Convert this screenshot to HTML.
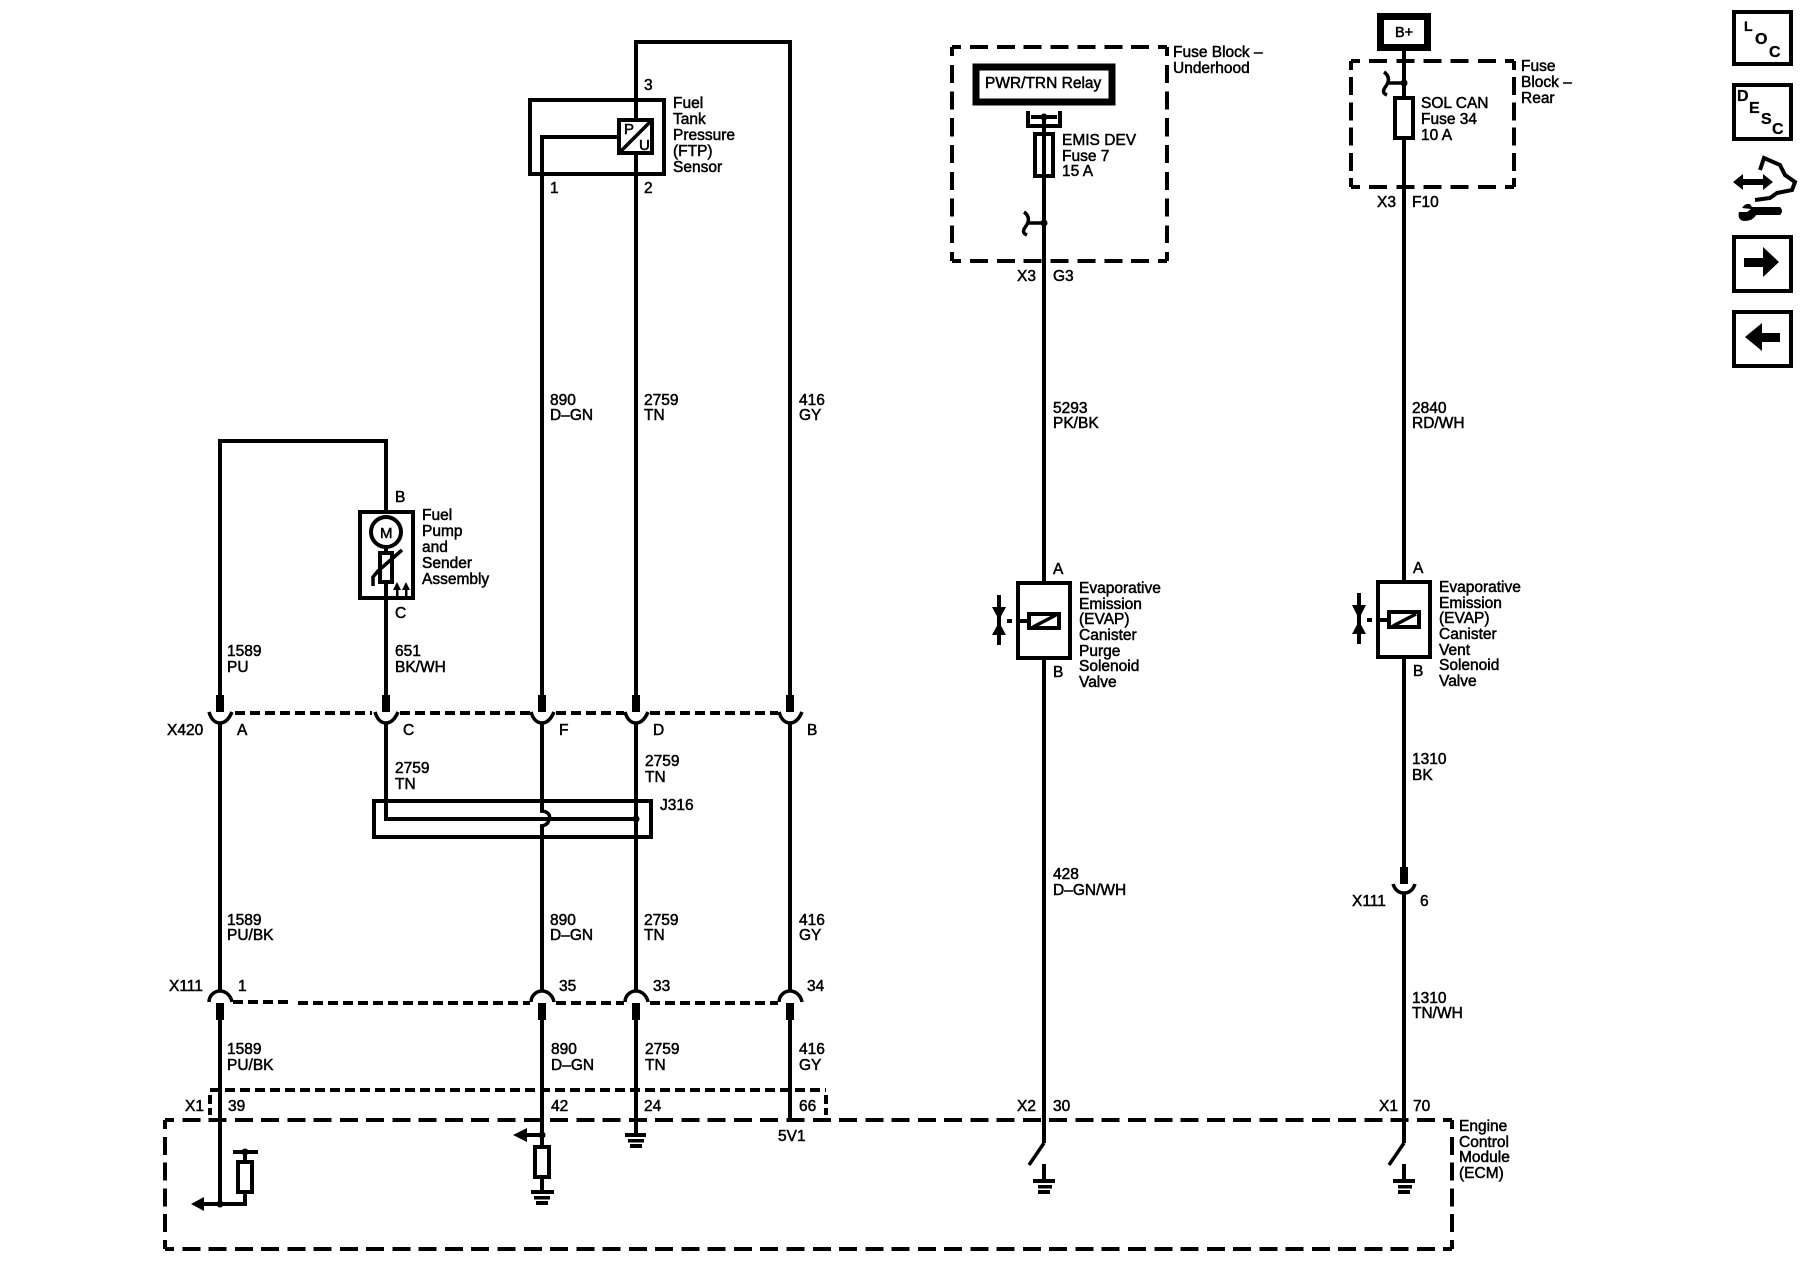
<!DOCTYPE html>
<html><head><meta charset="utf-8"><title>Wiring diagram</title>
<style>
html,body{margin:0;padding:0;background:#fff;width:1800px;height:1280px;overflow:hidden}
svg{display:block}
text{font-family:"Liberation Sans",sans-serif;font-size:15.5px;fill:#000;stroke:#000;stroke-width:.5px}
.w{fill:none;stroke:#000;stroke-width:4;shape-rendering:crispEdges}
.c{fill:none;stroke:#000;stroke-width:3.5}
.k{fill:#000;stroke:none}
.b{fill:none;stroke:#000;stroke-width:4;shape-rendering:crispEdges}
.d{fill:none;stroke:#000;stroke-width:4;stroke-dasharray:10 5;shape-rendering:crispEdges}
.i{font-weight:bold;font-size:16px;stroke-width:.3px}
</style></head><body>
<svg xmlns="http://www.w3.org/2000/svg" width="1800" height="1280" viewBox="0 0 1800 1280">
<rect width="1800" height="1280" fill="#fff"/>

<!-- Wires -->
<path class="w" d="M220 695V441H386V512M386 547V553M386 582V695"/>
<path class="w" d="M220 723V991M220 1020V1204"/>
<path class="w" d="M386 723V819H636"/>
<path class="w" d="M542 695V137H619"/>
<path class="w" d="M542 723V811M542 827V991M542 1020V1147M542 1177V1192"/>
<path class="w" d="M636 695V42H790V695"/>
<path class="w" d="M636 723V991M636 1020V1135"/>
<path class="w" d="M790 723V991M790 1020V1120"/>
<path class="w" d="M1044 117V583M1044 658V1143"/>
<path class="w" d="M1404 51V582M1404 657V867M1404 893V1143"/>

<!-- FTP sensor -->
<rect class="b" x="530" y="100" width="134" height="74"/>
<rect x="619" y="120" width="33" height="33" fill="#fff" stroke="#000" stroke-width="4" shape-rendering="crispEdges"/>
<path class="c" d="M620 152L651 121"/>
<text x="624" y="134" style="font-size:15px">P</text>
<text x="639" y="150" style="font-size:15px">U</text>
<text x="644" y="90">3</text>
<text x="673" y="108">Fuel</text><text x="673" y="124">Tank</text><text x="673" y="140">Pressure</text><text x="673" y="156">(FTP)</text><text x="673" y="172">Sensor</text>
<text x="550" y="193">1</text><text x="644" y="193">2</text>

<!-- Fuse block underhood -->
<g style="stroke-dasharray:18 8.875;stroke-dashoffset:9" fill="none" stroke="#000" stroke-width="4" shape-rendering="crispEdges">
<path d="M952 47H1167"/><path d="M952 261H1167"/>
</g>
<g style="stroke-dasharray:18 8.75;stroke-dashoffset:9" fill="none" stroke="#000" stroke-width="4" shape-rendering="crispEdges">
<path d="M952 47V261"/><path d="M1167 47V261"/>
</g>
<rect x="976" y="67" width="136" height="35" fill="#fff" stroke="#000" stroke-width="7" shape-rendering="crispEdges"/>
<text x="985" y="88">PWR/TRN Relay</text>
<path class="b" d="M1028 111V126H1060V111M1031 117H1057"/>
<circle class="k" cx="1044" cy="117" r="3.5"/>
<rect x="1035" y="134" width="18" height="42" fill="none" stroke="#000" stroke-width="4" shape-rendering="crispEdges"/>
<text x="1062" y="145">EMIS DEV</text><text x="1062" y="161">Fuse 7</text><text x="1062" y="176">15 A</text>
<circle class="k" cx="1044" cy="223" r="3.5"/>
<path class="c" d="M1044 223H1028M1024 212C1030 216 1029 222 1026 226C1023 230 1022 233 1027 235"/>
<text x="1173" y="57">Fuse Block –</text><text x="1173" y="73">Underhood</text>
<text x="1017" y="281">X3</text><text x="1053" y="281">G3</text>

<!-- Fuse block rear -->
<rect x="1380.5" y="16.5" width="47" height="31" fill="#fff" stroke="#000" stroke-width="7" shape-rendering="crispEdges"/>
<text x="1395" y="37" style="font-size:14.5px">B+</text>
<g style="stroke-dasharray:18 9.17;stroke-dashoffset:9" fill="none" stroke="#000" stroke-width="4" shape-rendering="crispEdges">
<path d="M1351 61H1514"/><path d="M1351 187H1514"/>
</g>
<g style="stroke-dasharray:18 7.2;stroke-dashoffset:9" fill="none" stroke="#000" stroke-width="4" shape-rendering="crispEdges">
<path d="M1351 61V187"/><path d="M1514 61V187"/>
</g>
<circle class="k" cx="1404" cy="83" r="3.5"/>
<path class="c" d="M1404 83H1388M1384 72C1390 76 1389 82 1386 86C1383 90 1382 93 1387 95"/>
<rect x="1395" y="98" width="18" height="40" fill="#fff" stroke="#000" stroke-width="4" shape-rendering="crispEdges"/>
<text x="1421" y="108">SOL CAN</text><text x="1421" y="124">Fuse 34</text><text x="1421" y="140">10 A</text>
<text x="1521" y="71">Fuse</text><text x="1521" y="87">Block –</text><text x="1521" y="103">Rear</text>
<text x="1377" y="207">X3</text><text x="1412" y="207">F10</text>

<!-- Right labels -->
<text x="1053" y="413">5293</text><text x="1053" y="428">PK/BK</text>
<text x="1412" y="413">2840</text><text x="1412" y="428">RD/WH</text>

<!-- Evap purge -->
<rect class="b" x="1018" y="583" width="52" height="75"/>
<rect x="1029" y="614" width="30" height="14" fill="#fff" stroke="#000" stroke-width="4" shape-rendering="crispEdges"/>
<path class="c" d="M1033 627L1056 615" stroke-width="3"/>
<path class="b" d="M1007 621H1012M1016 621H1029M999 595V645"/>
<path class="k" d="M992 607H1006L999 620ZM992 635H1006L999 622Z"/>
<text x="1053" y="574">A</text><text x="1053" y="677">B</text>
<text x="1079" y="593">Evaporative</text><text x="1079" y="609">Emission</text><text x="1079" y="624">(EVAP)</text><text x="1079" y="640">Canister</text><text x="1079" y="656">Purge</text><text x="1079" y="671">Solenoid</text><text x="1079" y="687">Valve</text>

<!-- Evap vent -->
<rect class="b" x="1378" y="582" width="52" height="75"/>
<rect x="1389" y="612" width="30" height="15" fill="#fff" stroke="#000" stroke-width="4" shape-rendering="crispEdges"/>
<path class="c" d="M1393 626L1416 614" stroke-width="3"/>
<path class="b" d="M1367 620H1372M1376 620H1389M1359 593V644"/>
<path class="k" d="M1352 605H1366L1359 619ZM1352 634H1366L1359 621Z"/>
<text x="1413" y="573">A</text><text x="1413" y="676">B</text>
<text x="1439" y="592">Evaporative</text><text x="1439" y="608">Emission</text><text x="1439" y="623">(EVAP)</text><text x="1439" y="639">Canister</text><text x="1439" y="655">Vent</text><text x="1439" y="670">Solenoid</text><text x="1439" y="686">Valve</text>

<!-- Fuel pump -->
<rect class="b" x="360" y="512" width="53" height="86"/>
<circle cx="386" cy="532" r="15" fill="#fff" stroke="#000" stroke-width="4"/>
<text x="380" y="538" style="font-size:15px">M</text>
<rect class="b" x="380" y="553" width="12" height="29"/>
<path class="c" d="M373 586V577L378 571L402 550"/>
<path class="b" d="M397 597V587M406 597V587" style="stroke-width:2.5"/>
<path class="k" d="M393 590H401L397 582ZM402 590H410L406 582Z"/>
<text x="395" y="502">B</text><text x="395" y="618">C</text>
<text x="422" y="520">Fuel</text><text x="422" y="536">Pump</text><text x="422" y="552">and</text><text x="422" y="568">Sender</text><text x="422" y="584">Assembly</text>

<!-- Upper wire labels -->
<text x="550" y="405">890</text><text x="550" y="420">D–GN</text>
<text x="644" y="405">2759</text><text x="644" y="420">TN</text>
<text x="799" y="405">416</text><text x="799" y="420">GY</text>
<text x="227" y="656">1589</text><text x="227" y="672">PU</text>
<text x="395" y="656">651</text><text x="395" y="672">BK/WH</text>

<!-- X420 connector -->
<path class="d" d="M235 713H372M400 713H530M556 713H624M650 713H778"/>
<g>
<path class="c" d="M209 712C211 719 215 723 220 723C225 723 229 719 232 712"/>
<path class="c" d="M375 712C377 719 381 723 386 723C391 723 395 719 398 712"/>
<path class="c" d="M531 712C533 719 537 723 542 723C547 723 551 719 554 712"/>
<path class="c" d="M625 712C627 719 631 723 636 723C641 723 645 719 648 712"/>
<path class="c" d="M779 712C781 719 785 723 790 723C795 723 799 719 802 712"/>
</g>
<path class="k" d="M216 695h8v17h-8zM382 695h8v17h-8zM538 695h8v17h-8zM632 695h8v17h-8zM786 695h8v17h-8z"/>
<text x="167" y="735">X420</text><text x="237" y="735">A</text><text x="403" y="735">C</text><text x="559" y="735">F</text><text x="653" y="735">D</text><text x="807" y="735">B</text>

<!-- J316 -->
<text x="395" y="773">2759</text><text x="395" y="789">TN</text>
<text x="645" y="766">2759</text><text x="645" y="782">TN</text>
<rect class="b" x="374" y="801" width="277" height="36"/>
<text x="660" y="810">J316</text>
<circle class="k" cx="636" cy="819" r="3.5"/>
<path class="w" d="M386 819H636"/>
<path class="c" d="M540 811C548 811 551 815 549 820C548 824 545 826 540 826"/>

<!-- Middle labels -->
<text x="227" y="925">1589</text><text x="227" y="940">PU/BK</text>
<text x="550" y="925">890</text><text x="550" y="940">D–GN</text>
<text x="644" y="925">2759</text><text x="644" y="940">TN</text>
<text x="799" y="925">416</text><text x="799" y="940">GY</text>
<text x="1053" y="879">428</text><text x="1053" y="895">D–GN/WH</text>
<text x="1412" y="764">1310</text><text x="1412" y="780">BK</text>

<!-- Right X111 -->
<path class="k" d="M1400 867h8v17h-8z"/>
<path class="c" d="M1393 884C1395 890 1399 893 1404 893C1409 893 1413 890 1415 884"/>
<text x="1352" y="906">X111</text><text x="1420" y="906">6</text>
<text x="1412" y="1003">1310</text><text x="1412" y="1018">TN/WH</text>

<!-- X111 connector -->
<path class="d" d="M233 1002H293M298 1003H530M556 1003H624M650 1003H778"/>
<path class="c" d="M209 1002C209 996 214 991 220 991C226 991 231 996 232 1002"/>
<path class="c" d="M531 1002C531 996 536 991 542 991C548 991 553 996 554 1002"/>
<path class="c" d="M625 1002C625 996 630 991 636 991C642 991 647 996 648 1002"/>
<path class="c" d="M779 1002C779 996 784 991 790 991C796 991 801 996 802 1002"/>
<path class="k" d="M216 1003h8v17h-8zM538 1003h8v17h-8zM632 1003h8v17h-8zM786 1003h8v17h-8z"/>
<text x="169" y="991">X111</text><text x="238" y="991">1</text><text x="559" y="991">35</text><text x="653" y="991">33</text><text x="807" y="991">34</text>

<!-- Lower labels -->
<text x="227" y="1054">1589</text><text x="227" y="1070">PU/BK</text>
<text x="551" y="1054">890</text><text x="551" y="1070">D–GN</text>
<text x="645" y="1054">2759</text><text x="645" y="1070">TN</text>
<text x="799" y="1054">416</text><text x="799" y="1070">GY</text>

<!-- X1 connector dashed -->
<path class="d" d="M210 1090H826"/>
<path class="b" d="M210 1095V1104M210 1108V1115M826 1095V1104M826 1108V1115"/>
<text x="185" y="1111">X1</text><text x="228" y="1111">39</text><text x="551" y="1111">42</text><text x="644" y="1111">24</text><text x="799" y="1111">66</text>
<text x="1017" y="1111">X2</text><text x="1053" y="1111">30</text><text x="1379" y="1111">X1</text><text x="1413" y="1111">70</text>

<!-- ECM box -->
<g style="stroke-dasharray:18 8.27;stroke-dashoffset:9" fill="none" stroke="#000" stroke-width="4" shape-rendering="crispEdges">
<path d="M165 1120H1452"/><path d="M165 1249H1452"/>
</g>
<g style="stroke-dasharray:18 7.8;stroke-dashoffset:9" fill="none" stroke="#000" stroke-width="4" shape-rendering="crispEdges">
<path d="M165 1120V1249"/><path d="M1452 1120V1249"/>
</g>
<text x="1459" y="1131">Engine</text><text x="1459" y="1147">Control</text><text x="1459" y="1162">Module</text><text x="1459" y="1178">(ECM)</text>
<text x="778" y="1141">5V1</text>

<!-- ECM internals 1 -->
<circle class="k" cx="220" cy="1204" r="3.5"/>
<path class="k" d="M191 1204L204 1197V1211Z"/>
<path class="b" d="M204 1204H245V1192M245 1162V1152M233 1152H258"/>
<circle class="k" cx="245" cy="1152" r="3.5"/>
<rect class="b" x="238" y="1162" width="14" height="30"/>

<!-- ECM internals 2 -->
<circle class="k" cx="542" cy="1135" r="3.5"/>
<path class="k" d="M513 1135L527 1128V1142Z"/>
<path class="b" d="M527 1135H542"/>
<rect class="b" x="535" y="1147" width="14" height="30"/>
<path class="k" d="M531 1190h23v4h-23zM534 1196h16v3.5h-16zM536 1201h12v4h-12z"/>

<!-- Ground 24 -->
<path class="k" d="M625 1133h21v4h-21zM628 1139h16v3.5h-16zM630 1144h12v4h-12z"/>

<!-- Switch grounds -->
<path class="c" d="M1044 1143L1029 1165"/>
<path class="w" d="M1044 1164V1180"/>
<path class="k" d="M1033 1179h22v4h-22zM1038 1185h14v3.5h-14zM1038 1190h12v4h-12z"/>
<path class="c" d="M1404 1143L1389 1165"/>
<path class="w" d="M1404 1164V1180"/>
<path class="k" d="M1393 1179h22v4h-22zM1398 1185h14v3.5h-14zM1398 1190h12v4h-12z"/>

<!-- Side icons -->
<rect class="b" x="1734" y="12" width="57" height="52"/>
<text class="i" x="1744" y="31" style="font-size:14px">L</text><text class="i" x="1755" y="44">O</text><text class="i" x="1769" y="57">C</text>
<rect class="b" x="1734" y="85" width="57" height="54"/>
<text class="i" x="1737" y="101">D</text><text class="i" x="1749" y="113">E</text><text class="i" x="1761" y="124">S</text><text class="i" x="1772" y="134">C</text>

<path class="k" d="M1733 182L1743 174V179H1763V174L1773 182L1763 190V185H1743V190Z"/>
<path fill="none" stroke="#000" stroke-width="4" d="M1760 170L1764 158L1780 165L1785 175L1795 182L1792 190L1777 193L1770 198L1755 200"/>
<path class="k" d="M1752 207H1780Q1784 211 1780 215H1756Q1753 221 1744 221Q1737 220 1739 212H1747L1751 209L1742 208Q1745 203 1750 204Z"/>

<rect class="b" x="1734" y="237" width="57" height="54"/>
<path class="k" d="M1744 258H1763V247L1779 262L1763 277V267H1744Z"/>
<rect class="b" x="1734" y="312" width="57" height="54"/>
<path class="k" d="M1745 337L1762 323V333H1780V342H1762V351Z"/>
</svg>
</body></html>
